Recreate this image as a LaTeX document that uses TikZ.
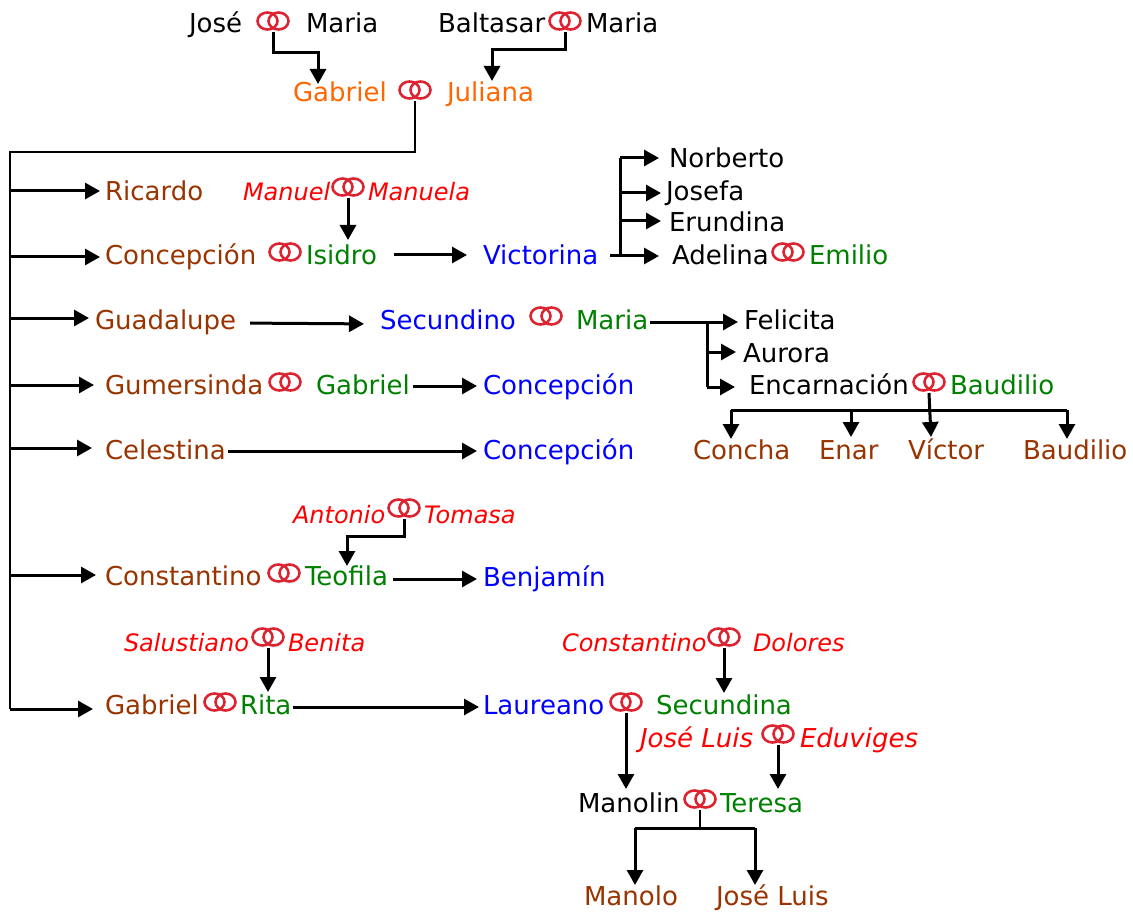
\documentclass[tikz,border=0pt]{standalone}
\usepackage{fontspec}
\setmainfont{DejaVu Sans}
\usetikzlibrary{arrows.meta}
\definecolor{ringred}{HTML}{DD2230}
\definecolor{kinbrown}{HTML}{993300}
\definecolor{kinorange}{HTML}{FF6600}
\definecolor{kingreen}{HTML}{008000}
\tikzset{
  person/.style={anchor=west,inner sep=0pt,outer sep=0pt,text height=25pt,text depth=6pt,font=\fontsize{26}{30}\selectfont},
  elder/.style={person,black},
  founder/.style={person,kinorange},
  child/.style={person,kinbrown},
  lastrow/.style={child,text height=19pt,text depth=0pt},
  spouse/.style={person,kingreen},
  grandchild/.style={person,blue},
  inlaw/.style={person,red,text height=24pt,font=\itshape\fontsize{24}{28}\selectfont},
  inlawbig/.style={person,red,font=\itshape\fontsize{26}{30}\selectfont},
  rings/.style={minimum width=36pt,minimum height=22pt,inner sep=0pt,outer sep=0pt,
    path picture={
      \draw[ringred,line width=2.6pt] ([xshift=-5.5pt]path picture bounding box.center) ellipse [x radius=10pt,y radius=8.5pt];
      \draw[ringred,line width=2.6pt] ([xshift=5.5pt]path picture bounding box.center) ellipse [x radius=10pt,y radius=8.5pt];
    }},
  line/.style={black,line width=3pt},
  thinline/.style={black,line width=2.2pt},
  arr/.style={line,-{Triangle[length=15pt,width=16pt]}},
}
\begin{document}
\begin{tikzpicture}[x=1pt,y=-1pt]
  \useasboundingbox (0,0) rectangle (1133,912);
  % top generation
  \node[elder] (jose) at (189,23) {José};
  \node[rings] (rJose) at (273,21) {};
  \node[elder] (mariaA) at (306,23) {Maria};
  \node[elder] (baltasar) at (438,23) {Baltasar};
  \node[rings] (rBaltasar) at (565,21) {};
  \node[elder] (mariaB) at (586,23) {Maria};
  \node[founder] (gabrielA) at (293,92) {Gabriel};
  \node[rings] (rGabriel) at (415,90) {};
  \node[founder] (juliana) at (447,92) {Juliana};
  % children column
  \node[child] (ricardo) at (105,191) {Ricardo};
  \node[child] (concepcion) at (105,255) {Concepción};
  \node[child] (guadalupe) at (95,320) {Guadalupe};
  \node[child] (gumersinda) at (105,385) {Gumersinda};
  \node[child] (celestina) at (105,450) {Celestina};
  \node[child] (constantino) at (105,576) {Constantino};
  \node[child] (gabrielB) at (105,705) {Gabriel};
  % concepcion row
  \node[inlaw] (manuel) at (243,192) {Manuel};
  \node[rings] (rManuel) at (348,187) {};
  \node[inlaw] (manuela) at (368,192) {Manuela};
  \node[rings] (rConcepcion) at (285,252) {};
  \node[spouse] (isidro) at (306,255) {Isidro};
  \node[grandchild] (victorina) at (483,255) {Victorina};
  \node[elder] (norberto) at (669,158) {Norberto};
  \node[elder] (josefa) at (666,191) {Josefa};
  \node[elder] (erundina) at (669,222) {Erundina};
  \node[elder] (adelina) at (672,255) {Adelina};
  \node[rings] (rAdelina) at (788,252) {};
  \node[spouse] (emilio) at (809,255) {Emilio};
  % guadalupe row
  \node[grandchild] (secundino) at (380,320) {Secundino};
  \node[rings] (rSecundino) at (546,316) {};
  \node[spouse] (mariaC) at (576,320) {Maria};
  \node[elder] (felicita) at (744,320) {Felicita};
  \node[elder] (aurora) at (743,353) {Aurora};
  \node[elder] (encarnacion) at (749,385) {Encarnación};
  \node[rings] (rEncarnacion) at (929,382) {};
  \node[spouse] (baudilioA) at (950,385) {Baudilio};
  \node[child] (concha) at (693,450) {Concha};
  \node[child] (enar) at (819,450) {Enar};
  \node[child] (victor) at (908,450) {Víctor};
  \node[child] (baudilioB) at (1023,450) {Baudilio};
  % gumersinda, celestina
  \node[rings] (rGumersinda) at (285,382) {};
  \node[spouse] (gabrielC) at (316,385) {Gabriel};
  \node[grandchild] (concepcionB) at (483,385) {Concepción};
  \node[grandchild] (concepcionC) at (483,450) {Concepción};
  % constantino row
  \node[inlaw] (antonio) at (293,514) {Antonio};
  \node[rings] (rAntonio) at (404,508) {};
  \node[inlaw] (tomasa) at (424,514) {Tomasa};
  \node[rings] (rConstantino) at (284,573) {};
  \node[spouse] (teofila) at (305,576) {Teofila};
  \node[grandchild] (benjamin) at (483,577) {Benjamín};
  % gabriel row
  \node[inlaw] (salustiano) at (124,642) {Salustiano};
  \node[rings] (rSalustiano) at (268,637) {};
  \node[inlaw] (benita) at (288,642) {Benita};
  \node[inlaw] (constantinoB) at (562,642) {Constantino};
  \node[rings] (rDolores) at (724,637) {};
  \node[inlaw] (dolores) at (753,642) {Dolores};
  \node[rings] (rRita) at (220,702) {};
  \node[spouse] (rita) at (240,705) {Rita};
  \node[grandchild] (laureano) at (483,705) {Laureano};
  \node[rings] (rLaureano) at (626,702) {};
  \node[spouse] (secundina) at (656,705) {Secundina};
  \node[inlawbig] (joseluisA) at (640,738) {José Luis};
  \node[rings] (rEduviges) at (778,734) {};
  \node[inlawbig] (eduviges) at (800,738) {Eduviges};
  \node[elder] (manolin) at (578,803) {Manolin};
  \node[rings] (rManolin) at (700,799) {};
  \node[spouse] (teresa) at (720,803) {Teresa};
  \node[lastrow] (manolo) at (584,896) {Manolo};
  \node[lastrow] (joseluisB) at (716,896) {José Luis};
  % junctions and arrow ends
  \coordinate (tGabriel) at (318,84);
  \coordinate (tJuliana) at (492,81);
  \coordinate (trunkTop) at (10,152);
  \coordinate (trunkBot) at (10,709);
  \coordinate (vicBar) at (620,256);
  \coordinate (felBar) at (707,322);
  \coordinate (encBar) at (731,410);
  \coordinate (encEnd) at (1067,410);
  \coordinate (manBar) at (635,828);
  \coordinate (manEnd) at (755,828);
  % parents down to the next generation
  \draw[arr] (rJose.south) |- (318,53) -- (tGabriel);
  \draw[arr] (rBaltasar.south) |- (492,50) -- (tJuliana);
  \draw[thinline] (rGabriel.south) |- (trunkTop) -- (trunkBot);
  \draw[arr] (rManuel.south) -- (348,240);
  \draw[arr] (rAntonio.south) |- (347,536) -- (347,566);
  \draw[arr] (rSalustiano.south) -- (268,692);
  \draw[arr] (rDolores.south) -- (724,693);
  \draw[arr] (rLaureano.south) -- (626,789);
  \draw[arr] (rEduviges.south) -- (778,789);
  % trunk branches
  \foreach \who/\gap/\dy in {ricardo/5/0,concepcion/5/-2,guadalupe/6/2,gumersinda/11/0,celestina/13/2,constantino/9/1,gabrielB/12/-4}{
    \path ([yshift=\dy pt]\who.west) coordinate (branchEnd);
    \draw[arr,shorten >=\gap pt] (trunkTop |- branchEnd) -- (branchEnd);
  }
  % person to person
  \draw[arr,shorten <=17pt,shorten >=16pt] (isidro.east) -- (victorina.west);
  \draw[arr,shorten <=14pt,shorten >=16pt] ([yshift=-3pt]guadalupe.east) -- ([yshift=-4pt]secundino.west);
  \draw[arr,shorten <=3pt,shorten >=6pt] ([yshift=-1pt]gabrielC.east) -- ([yshift=-1pt]concepcionB.west);
  \draw[arr,shorten <=2pt,shorten >=6pt] ([yshift=-1pt]celestina.east) -- ([yshift=-1pt]concepcionC.west);
  \draw[arr,shorten <=5pt,shorten >=6pt] ([yshift=-3pt]teofila.east) -- ([yshift=-2pt]benjamin.west);
  \draw[arr,shorten <=2pt,shorten >=4pt] ([yshift=-2pt]rita.east) -- ([yshift=-2pt]laureano.west);
  % victorina's children
  \draw[arr] (610,256) -- (659,256);
  \draw[line] (vicBar) -- (620,158);
  \draw[arr] (620,158) -- (659,158);
  \draw[arr] (620,193) -- (661,193);
  \draw[arr] (620,221) -- (661,221);
  % maria's children
  \draw[arr,shorten <=2pt] ([yshift=-2pt]mariaC.east) -- (738,322);
  \draw[line] (felBar) -- (707,387);
  \draw[arr] (707,352) -- (736,352);
  \draw[arr] (707,387) -- (735,387);
  % encarnacion's children
  \draw[arr] (rEncarnacion.south) -- (931,437);
  \draw[line] (encBar) -- (encEnd);
  \draw[arr] (encBar) -- (731,439);
  \draw[arr] (851,410) -- (851,437);
  \draw[arr] (encEnd) -- (1067,439);
  % manolin's children
  \draw[thinline] (rManolin.south) -- (700,828);
  \draw[line] (manBar) -- (manEnd);
  \draw[arr] (manBar) -- (635,885);
  \draw[arr] (manEnd) -- (755,885);
\end{tikzpicture}
\end{document}
